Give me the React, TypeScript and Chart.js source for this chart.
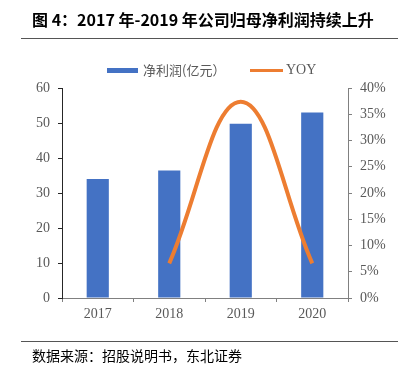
import React, { useEffect, useRef } from 'react';
import { Chart, registerables } from 'chart.js';

Chart.register(...registerables);

const titleText = '图 4：2017 年-2019 年公司归母净利润持续上升';
const sourceText = '数据来源：招股说明书，东北证券';
const categories = ['2017', '2018', '2019', '2020'];
const netProfit = [34.0, 36.4, 49.8, 53.0];
const yoyPct: (number | null)[] = [null, 6.6, 37.4, 6.6];
const barLabel = '净利润(亿元）';
const lineLabel = 'YOY';
const leftMax = 60;
const leftStep = 10;
const rightMax = 40;
const rightStep = 5;

const BLUE = '#4472C4';
const ORANGE = '#ED7D31';
const TICK = '#595959';
const SERIF = '"Liberation Serif", "Times New Roman", serif';
const CJK = '"Noto Sans CJK SC", sans-serif';

export default function App() {
  const ref = useRef<HTMLCanvasElement | null>(null);

  useEffect(() => {
    if (!ref.current) return;
    const chart = new Chart(ref.current, {
      type: 'bar',
      data: {
        labels: categories,
        datasets: [
          {
            type: 'line',
            label: lineLabel,
            data: yoyPct,
            yAxisID: 'y1',
            borderColor: ORANGE,
            backgroundColor: ORANGE,
            borderWidth: 4,
            pointRadius: 0,
            tension: 0.4,
            fill: false,
            order: 0,
          } as any,
          {
            type: 'bar',
            label: barLabel,
            data: netProfit,
            yAxisID: 'y',
            backgroundColor: BLUE,
            categoryPercentage: 1,
            barPercentage: 0.31,
            order: 1,
          } as any,
        ],
      },
      options: {
        responsive: false,
        animation: false,
        devicePixelRatio: 1,
        layout: { padding: { top: 88, left: 0, right: 0, bottom: 0 } },
        plugins: {
          legend: { display: false },
          tooltip: { enabled: false },
          title: { display: false },
        },
        scales: {
          x: {
            type: 'category',
            offset: true,
            grid: {
              offset: true,
              drawOnChartArea: false,
              drawTicks: true,
              tickLength: 4,
              tickColor: '#808080',
            },
            border: { color: '#808080', width: 1 },
            ticks: {
              color: TICK,
              font: { family: SERIF, size: 14 },
              padding: 4,
              maxRotation: 0,
            },
            afterFit: (s: any) => {
              s.height = 70;
            },
          },
          y: {
            position: 'left',
            min: 0,
            max: leftMax,
            grid: {
              drawOnChartArea: false,
              drawTicks: true,
              tickLength: 4,
              tickColor: '#262626',
            },
            border: { color: '#262626', width: 1 },
            ticks: {
              stepSize: leftStep,
              color: TICK,
              font: { family: SERIF, size: 14 },
              padding: 8,
            },
            afterFit: (s: any) => {
              s.width = 62;
            },
          },
          y1: {
            position: 'right',
            min: 0,
            max: rightMax,
            grid: {
              drawOnChartArea: false,
              drawTicks: true,
              tickLength: 4,
              tickColor: '#808080',
            },
            border: { color: '#808080', width: 1 },
            ticks: {
              stepSize: rightStep,
              color: TICK,
              font: { family: SERIF, size: 14 },
              padding: 8,
              callback: (v: any) => `${v}%`,
            },
            afterFit: (s: any) => {
              s.width = 57;
            },
          },
        },
      },
    });
    return () => chart.destroy();
  }, []);

  return (
    <div
      style={{
        position: 'fixed',
        left: 0,
        top: 0,
        width: 405,
        height: 368,
        background: '#fff',
        overflow: 'hidden',
      }}
    >
      <canvas
        ref={ref}
        width={405}
        height={368}
        style={{ position: 'absolute', left: 0, top: 0, width: 405, height: 368, display: 'block' }}
      />
      <div
        style={{
          position: 'absolute',
          left: 32,
          top: 9,
          fontFamily: CJK,
          fontWeight: 700,
          fontSize: 16,
          lineHeight: '20px',
          color: '#000',
          whiteSpace: 'nowrap',
        }}
      >
        {titleText}
      </div>
      <div style={{ position: 'absolute', left: 21, top: 37.5, width: 377, height: 1, background: '#555' }} />
      <div style={{ position: 'absolute', left: 107, top: 67.5, width: 31, height: 5, background: BLUE }} />
      <div
        style={{
          position: 'absolute',
          left: 143,
          top: 61,
          fontFamily: CJK,
          fontSize: 13,
          lineHeight: '18px',
          color: TICK,
          whiteSpace: 'nowrap',
        }}
      >
        {barLabel}
      </div>
      <div style={{ position: 'absolute', left: 250, top: 68.5, width: 33, height: 3, background: ORANGE }} />
      <div
        style={{
          position: 'absolute',
          left: 286,
          top: 61,
          fontFamily: SERIF,
          fontSize: 14,
          lineHeight: '18px',
          color: TICK,
          whiteSpace: 'nowrap',
        }}
      >
        {lineLabel}
      </div>
      <div style={{ position: 'absolute', left: 21, top: 340.5, width: 377, height: 1, background: '#555' }} />
      <div
        style={{
          position: 'absolute',
          left: 32,
          top: 345,
          fontFamily: CJK,
          fontSize: 14,
          lineHeight: '20px',
          color: '#000',
          whiteSpace: 'nowrap',
        }}
      >
        {sourceText}
      </div>
    </div>
  );
}
